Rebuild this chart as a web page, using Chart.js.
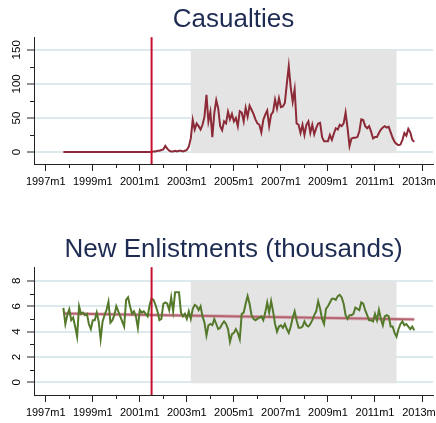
<!DOCTYPE html>
<html>
<head>
<meta charset="utf-8">
<script src="https://cdn.jsdelivr.net/npm/chart.js@4"></script>
<style>
  body { margin: 0; background: #fff; }
  .box { position: relative; width: 436px; }
</style>
</head>
<body>
<div class="box" style="height:230px"><canvas id="casualties"></canvas></div>
<div class="box" style="height:193px"><canvas id="enlistments"></canvas></div>
<script>
// months are counted from 1997m1 (= 0); both series start in 1997m10
const startMonth = 9;

const casualties = [
  0,0,0,0,0,0,0,0,0,0,0,0,0,0,0,0,0,0,0,0,0,0,0,0,0,0,0,0,0,0,0,0,0,0,0,0,0,0,0,0,0,0,0,0,0,0,
  1,1,2,2,3,4,9,5,2,1,1,2,1,2,2,1,2,3,
  8,20,47,33,42,38,33,40,52,84,45,59,22,57,76,64,38,32,45,42,59,48,56,45,
  50,38,60,58,45,65,52,68,62,56,48,42,40,29,47,55,61,38,55,59,77,64,79,66,67,72,100,126,95,74,92,
  42,40,28,40,25,40,45,28,40,26,35,42,43,22,16,16,16,25,18,27,
  35,33,40,38,42,58,35,9,20,21,21,22,30,48,47,38,35,38,30,20,22,22,28,33,36,38,36,37,29,21,
  15,12,10,11,18,28,24,34,29,18,15
];

const enlistments = [
  5.88,4.6,5.3,5.75,4.9,5.1,4.4,3.6,6.0,5.4,5.5,5.3,5.4,4.6,4.2,4.9,4.9,5.5,4.8,3.4,4.8,5.3,
  5.7,6.35,4.7,4.9,5.3,6.0,5.6,5.2,4.8,4.4,6.5,6.7,6.0,5.4,5.6,5.2,4.3,5.7,5.5,5.6,
  5.4,5.2,6.1,6.6,6.5,6.1,5.6,4.9,5.0,6.2,6.3,6.2,5.7,6.7,5.6,7.1,7.1,7.1,5.5,5.2,5.4,5.0,
  5.6,5.0,5.8,6.1,6.0,5.7,6.0,5.2,4.7,3.7,4.5,4.6,4.5,
  5.0,4.6,4.2,4.3,4.6,4.8,4.6,4.2,3.2,3.8,3.9,4.2,3.9,3.4,
  5.4,5.5,6.2,6.8,6.2,5.3,5.0,4.9,5.0,5.1,5.2,4.9,5.5,6.3,5.5,6.4,5.6,4.6,4.0,4.4,4.5,4.3,
  4.6,4.2,3.9,4.4,5.1,5.6,4.9,4.3,4.3,4.4,4.8,4.5,4.4,4.6,4.9,5.3,5.6,6.4,5.8,5.0,4.6,5.8,
  6.0,6.3,6.6,6.6,
  6.5,6.8,6.9,6.7,6.2,5.3,5.0,5.3,5.3,5.4,5.9,5.8,5.7,6.3,6.2,5.7,5.3,4.9,4.9,4.8,5.4,4.9,
  5.7,5.0,4.5,5.2,5.3,5.2,4.4,4.4,3.9,3.6,4.2,4.6,4.8,4.5,4.6,4.4,4.2,4.4,4.1
];

// fitted trend for enlistments, first and last month
const trendValues = [5.43, 4.96];

const shadeMonths = [74, 179];   // 2003m3 .. 2011m12
const eventMonth = 54;

const xMajorTicks = [0, 24, 48, 72, 96, 120, 144, 168, 192];
const xMinorTicks = [12, 36, 60, 84, 108, 132, 156, 180];
const xTickLabels = ['1997m1','1999m1','2001m1','2003m1','2005m1','2007m1','2009m1','2011m1','2013m1'];

const casTicks = [0, 50, 100, 150];
const casMinor = [25, 75, 125];
const enlTicks = [0, 2, 4, 6, 8];
const enlMinor = [1, 3, 5, 7];

const toPoints = (vals) => vals.map((v, i) => ({x: startMonth + i, y: v}));

const decor = {
  id: 'decor',
  beforeDatasetsDraw(chart, args, opts) {
    const {ctx, scales: {x, y}} = chart;
    ctx.save();
    ctx.fillStyle = '#e4e4e4';
    const x0 = x.getPixelForValue(shadeMonths[0]);
    const x1 = x.getPixelForValue(shadeMonths[1]);
    const y0 = y.getPixelForValue(0);
    const y1 = y.getPixelForValue(opts.shadeTop);
    ctx.fillRect(x0, y1, x1 - x0, y0 - y1 + 1);
    ctx.restore();
  },
  afterDatasetsDraw(chart) {
    const {ctx, chartArea, scales: {x}} = chart;
    const px = x.getPixelForValue(eventMonth);
    ctx.save();
    ctx.strokeStyle = '#c8102e';
    ctx.lineWidth = 2;
    ctx.beginPath();
    ctx.moveTo(px, chartArea.top);
    ctx.lineTo(px, chartArea.bottom);
    ctx.stroke();
    ctx.restore();
  },
  afterDraw(chart, args, opts) {
    const {ctx, chartArea, scales: {x, y}} = chart;
    ctx.save();
    ctx.strokeStyle = '#222';
    ctx.lineWidth = 1;
    ctx.beginPath();
    xMinorTicks.forEach(v => {
      const px = Math.round(x.getPixelForValue(v)) + 0.5;
      ctx.moveTo(px, chartArea.bottom);
      ctx.lineTo(px, chartArea.bottom + 4);
    });
    opts.yMinor.forEach(v => {
      const py = Math.round(y.getPixelForValue(v)) + 0.5;
      ctx.moveTo(chartArea.left - 4, py);
      ctx.lineTo(chartArea.left, py);
    });
    ctx.stroke();
    ctx.restore();
  }
};

function makeChart(id, cfg) {
  const ctx = document.getElementById(id);
  return new Chart(ctx, {
    type: 'line',
    data: { datasets: cfg.datasets },
    options: {
      responsive: true,
      maintainAspectRatio: false,
      animation: false,
      layout: { padding: { left: 0, right: 3, top: 0, bottom: 0 } },
      plugins: {
        legend: { display: false },
        tooltip: { enabled: false },
        title: {
          display: true,
          text: cfg.title,
          fullSize: false,
          color: '#1e2b52',
          padding: { top: 4, bottom: 2 },
          font: { family: 'Liberation Sans, Arial, sans-serif', size: 26, weight: 'normal' }
        },
        decor: { shadeTop: cfg.shadeTop, yMinor: cfg.yMinor }
      },
      scales: {
        x: {
          type: 'linear',
          min: -6,
          max: 197.6,
          afterBuildTicks: s => { s.ticks = xMajorTicks.map(v => ({value: v})); },
          afterFit: s => { s.height = cfg.xHeight; s.paddingLeft = 0; s.paddingRight = 0; },
          border: { color: '#222', width: 1 },
          grid: { drawOnChartArea: false, tickLength: 7, tickColor: '#222' },
          ticks: {
            autoSkip: false, maxRotation: 0, padding: 4, color: '#000',
            font: { family: 'Liberation Sans, Arial, sans-serif', size: 11 },
            callback: (v, i) => xTickLabels[i]
          }
        },
        y: {
          min: cfg.yMin,
          max: cfg.yMax,
          afterBuildTicks: s => { s.ticks = cfg.yTicks.map(v => ({value: v})); },
          afterFit: s => { s.width = 34; s.paddingTop = 0; s.paddingBottom = 0; },
          border: { color: '#222', width: 1 },
          grid: { color: '#dce9ed', lineWidth: 2, tickColor: '#222', tickLength: 7, tickWidth: 1 },
          ticks: {
            autoSkip: false, minRotation: 90, maxRotation: 90, crossAlign: 'center',
            padding: cfg.yPad, color: '#000',
            font: { family: 'Liberation Sans Narrow, Liberation Sans, Arial, sans-serif', size: 11.5 }
          }
        }
      }
    },
    plugins: [decor]
  });
}

makeChart('casualties', {
  title: 'Casualties',
  yMin: -17.5, yMax: 168.5, yTicks: casTicks, yMinor: casMinor, yPad: 1,
  shadeTop: 150, xHeight: 66,
  datasets: [{
    data: toPoints(casualties),
    borderColor: '#8c2a37', borderWidth: 2, pointRadius: 0, tension: 0
  }]
});

const lastMonth = startMonth + enlistments.length - 1;
makeChart('enlistments', {
  title: 'New Enlistments (thousands)',
  yMin: -1, yMax: 9.08, yTicks: enlTicks, yMinor: enlMinor, yPad: 7,
  shadeTop: 8, xHeight: 28,
  datasets: [{
    data: toPoints(enlistments),
    borderColor: '#54792b', borderWidth: 2, pointRadius: 0, tension: 0
  }, {
    data: [{x: startMonth, y: trendValues[0]}, {x: lastMonth, y: trendValues[1]}],
    borderColor: 'rgba(205,140,150,0.6)', borderWidth: 3.5, pointRadius: 0
  }, {
    data: [{x: startMonth, y: trendValues[0]}, {x: lastMonth, y: trendValues[1]}],
    borderColor: '#8f2535', borderWidth: 1.8, pointRadius: 0
  }]
});
</script>
</body>
</html>
